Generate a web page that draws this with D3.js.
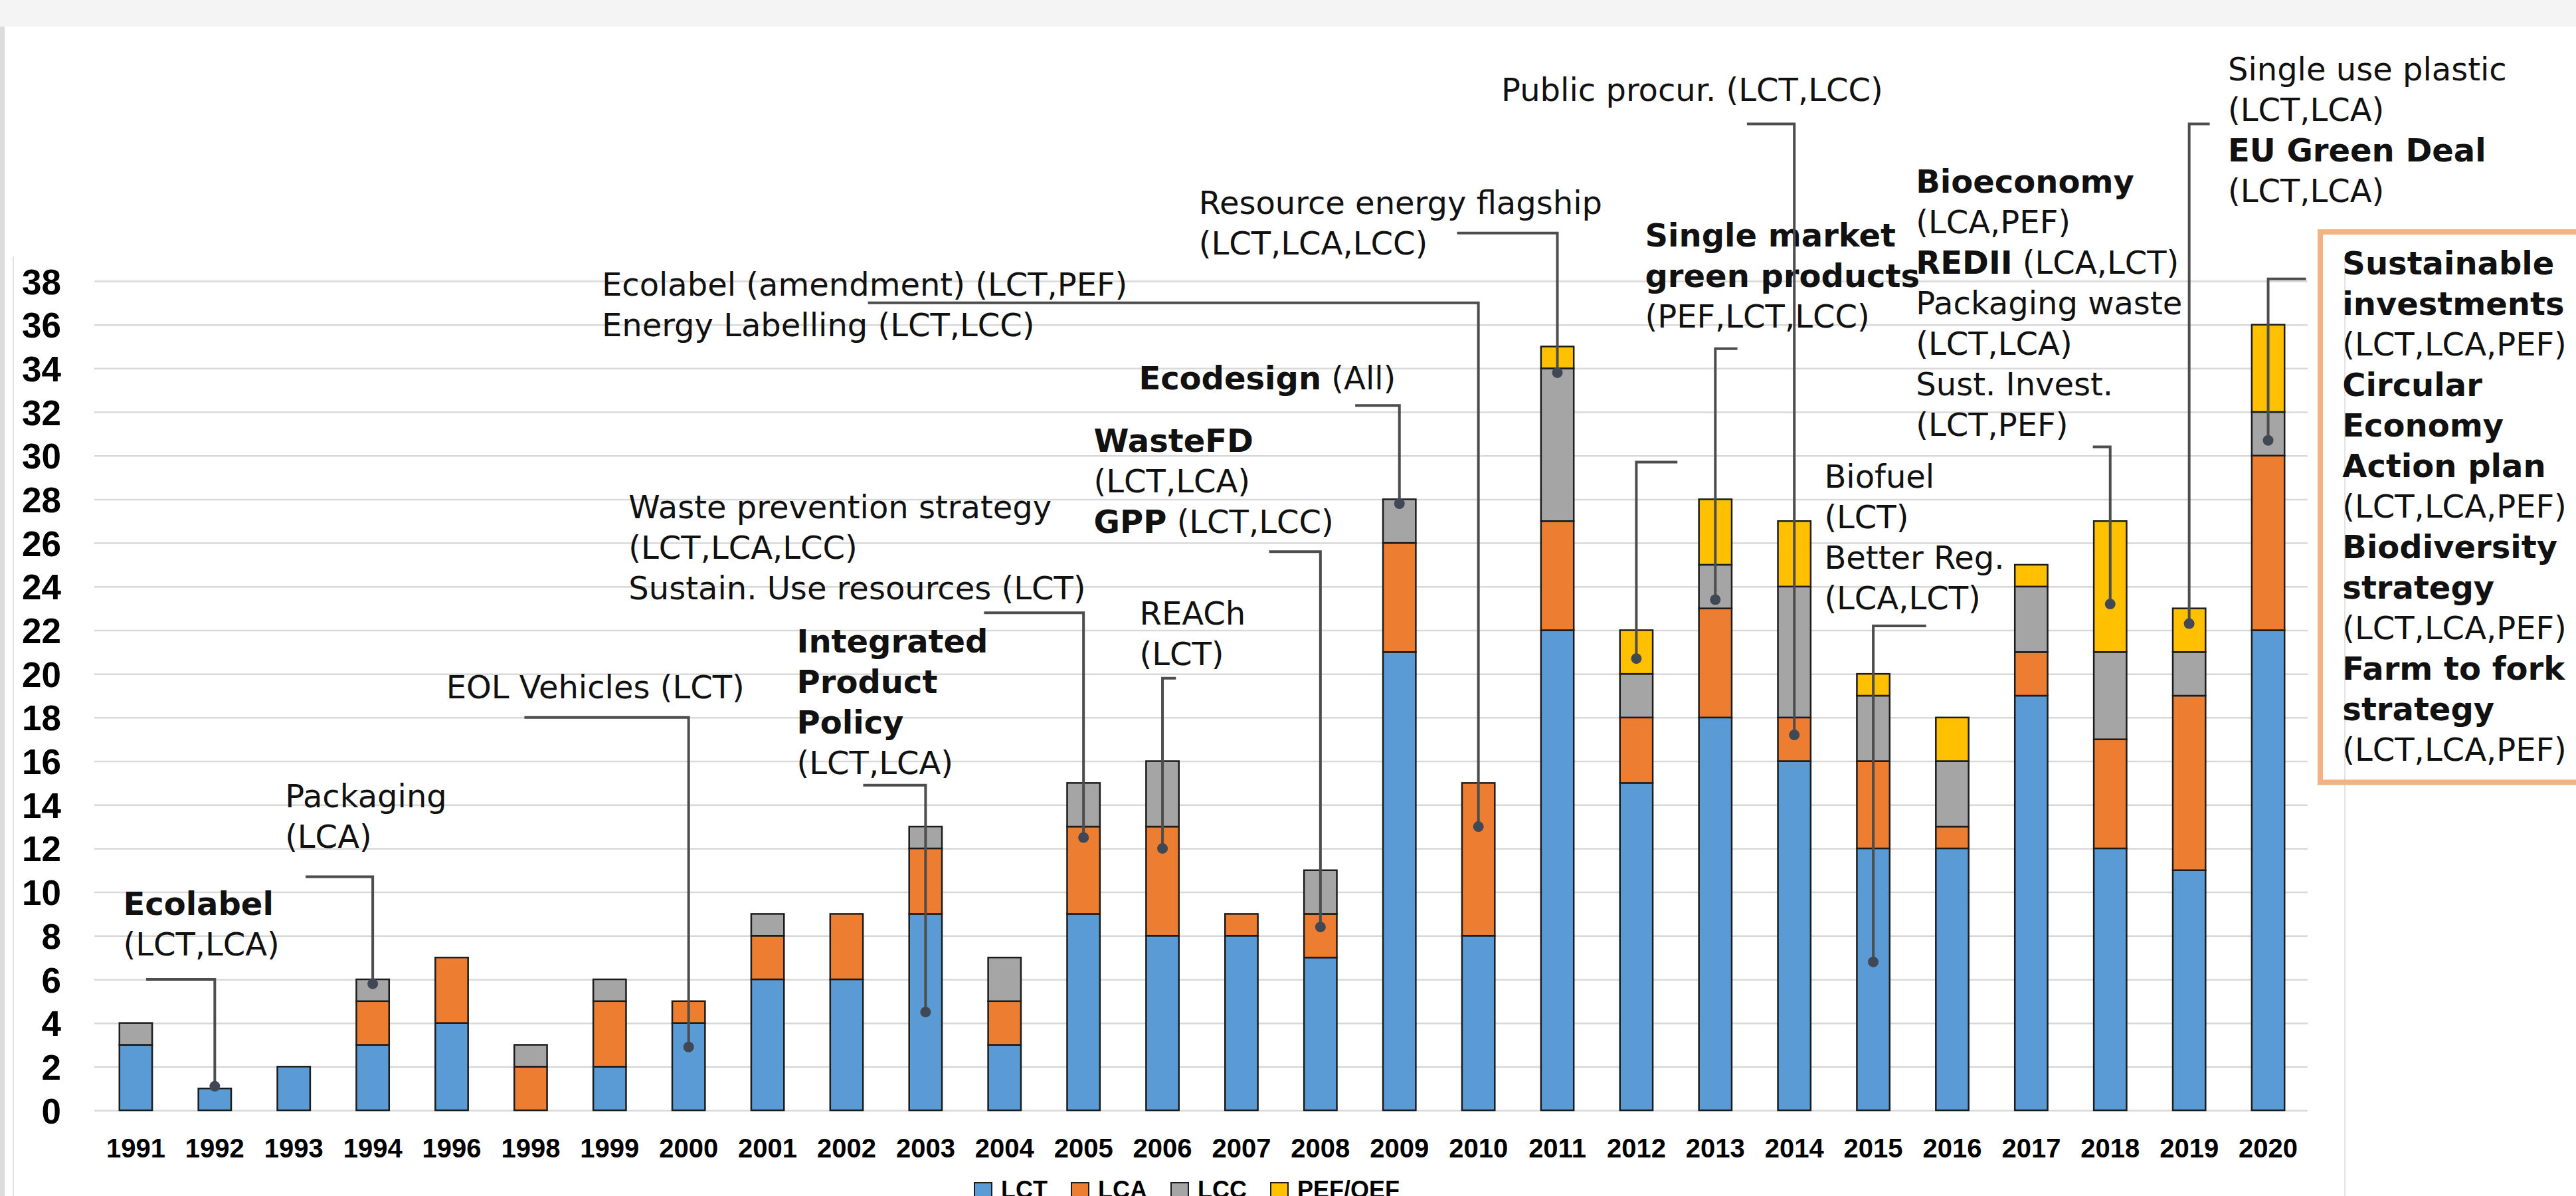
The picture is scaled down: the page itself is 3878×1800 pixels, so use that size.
<!DOCTYPE html>
<html lang="en">
<head>
<meta charset="UTF-8">
<title>Life cycle methods in EU policies</title>
<script src="https://d3js.org/d3.v7.min.js"></script>
<style>
  body { margin: 0; background: #fff; }
  svg { display: block; }
  .note { font-family: "DejaVu Sans", Verdana, sans-serif; font-size: 48px; fill: #111; white-space: pre; }
  .axis text { font-family: "Liberation Sans", Arial, sans-serif; font-weight: bold; fill: #000; }
  .legend text { font-family: "Liberation Sans", Arial, sans-serif; font-weight: bold; font-size: 36px; fill: #000; }
</style>
</head>
<body>
<script>
// data
const years = ["1991","1992","1993","1994","1996","1998","1999","2000","2001","2002",
               "2003","2004","2005","2006","2007","2008","2009","2010","2011","2012",
               "2013","2014","2015","2016","2017","2018","2019","2020"];
const lct = [3,1,2,3,4,0,2,4,6,6, 9,3,9,8,8,7,21,8,22,15, 18,16,12,12,19,12,11,22];
const lca = [0,0,0,2,3,2,3,1,2,3, 3,2,4,5,1,2,5,7,5,3, 5,2,4,1,2,5,8,8];
const lcc = [1,0,0,1,0,1,1,0,1,0, 1,2,2,3,0,2,2,0,7,2, 2,6,3,3,3,4,2,2];
const pef = [0,0,0,0,0,0,0,0,0,0, 0,0,0,0,0,0,0,0,1,2, 3,3,1,2,1,6,2,4];
const seriesNames = ["LCT", "LCA", "LCC", "PEF/OEF"];
const yTicks = d3.range(0, 40, 2);

// annotations: leader from `from` (category index units) at `elbow` value, down to `dot` on a bar
const leaders = [
  {year: "1992", dot: 1.1,  elbow: 6.0,  from: 0.63},
  {year: "1994", dot: 5.8,  elbow: 10.7, from: 2.65},
  {year: "2000", dot: 2.9,  elbow: 18.0, from: 5.42},
  {year: "2010", dot: 13.0, elbow: 37.0, from: 9.77},
  {year: "2005", dot: 12.5, elbow: 22.8, from: 11.24},
  {year: "2003", dot: 4.5,  elbow: 14.9, from: 9.71},
  {year: "2006", dot: 12.0, elbow: 19.8, from: 13.67},
  {year: "2008", dot: 8.4,  elbow: 25.6, from: 14.85},
  {year: "2009", dot: 27.8, elbow: 32.3, from: 15.94},
  {year: "2011", dot: 33.8, elbow: 40.2, from: 17.23},
  {year: "2014", dot: 17.2, elbow: 45.2, from: 20.90},
  {year: "2013", dot: 23.4, elbow: 34.9, from: 20.78},
  {year: "2012", dot: 20.7, elbow: 29.7, from: 20.02},
  {year: "2015", dot: 6.8,  elbow: 22.2, from: 23.17},
  {year: "2018", dot: 23.2, elbow: 30.4, from: 25.28},
  {year: "2019", dot: 22.3, elbow: 45.2, from: 26.76},
  {year: "2020", dot: 30.7, elbow: 38.1, from: 27.98}
];

// **text** = bold
const labels = [
  {at: [0.34, 8.95],  lines: ["**Ecolabel**", "(LCT,LCA)"]},
  {at: [2.39, 13.88], lines: ["Packaging", "(LCA)"]},
  {at: [4.43, 18.88], lines: ["EOL Vehicles (LCT)"]},
  {at: [6.40, 37.33], lines: ["Ecolabel (amendment) (LCT,PEF)", "Energy Labelling (LCT,LCC)"]},
  {at: [6.74, 27.13], lines: ["Waste prevention strategy", "(LCT,LCA,LCC)", "Sustain. Use resources (LCT)"]},
  {at: [8.87, 20.98], lines: ["**Integrated**", "**Product**", "**Policy**", "(LCT,LCA)"]},
  {at: [13.21, 22.26], lines: ["REACh", "(LCT)"]},
  {at: [12.63, 30.17], lines: ["**WasteFD**", "(LCT,LCA)", "**GPP** (LCT,LCC)"]},
  {at: [13.20, 33.04], lines: ["**Ecodesign** (All)"]},
  {at: [13.96, 41.08], lines: ["Resource energy flagship", "(LCT,LCA,LCC)"]},
  {at: [17.79, 46.25], lines: ["Public procur. (LCT,LCC)"]},
  {at: [19.61, 39.58], lines: ["**Single market**", "**green products**", "(PEF,LCT,LCC)"]},
  {at: [21.88, 28.53], lines: ["Biofuel", "(LCT)", "Better Reg.", "(LCA,LCT)"]},
  {at: [23.04, 42.05], lines: ["**Bioeconomy**", "(LCA,PEF)", "**REDII** (LCA,LCT)", "Packaging waste",
                              "(LCT,LCA)", "Sust. Invest.", "(LCT,PEF)"]},
  {at: [26.99, 47.20], lines: ["Single use plastic", "(LCT,LCA)", "**EU Green Deal**", "(LCT,LCA)"]},
  {at: [28.44, 38.30], lines: ["**Sustainable**", "**investments**", "(LCT,LCA,PEF)", "**Circular**",
                              "**Economy**", "**Action plan**", "(LCT,LCA,PEF)", "**Biodiversity**",
                              "**strategy**", "(LCT,LCA,PEF)", "**Farm to fork**", "**strategy**",
                              "(LCT,LCA,PEF)"]}
];
const box = {from: 28.16, top: 40.25, bottom: 15.03};

// layout / style
const W = 3878, H = 1800;
const x0 = 145, x1 = 3474, yBase = 1671, yTop = 423, gridLeft = 142;
const colors = ["#5b9bd5", "#ed7d31", "#a5a5a5", "#ffc000"];

const svg = d3.select("body").append("svg").attr("width", W).attr("height", H);

// page frame
svg.append("rect").attr("width", W).attr("height", 40).attr("fill", "#f4f4f4");
svg.append("rect").attr("y", 40).attr("width", 7).attr("height", H - 40).attr("fill", "#dcdcdc");
svg.selectAll("line.frame").data([20, 3530]).join("line").attr("class", "frame")
   .attr("x1", d => d).attr("x2", d => d).attr("y1", 386).attr("y2", H)
   .attr("stroke", "#e2e2e2").attr("stroke-width", 2);

const x = d3.scaleBand().domain(years).range([x0, x1]).paddingInner(0.585).paddingOuter(0.2925);
const xi = d3.scaleLinear().domain([0, years.length]).range([x0, x1]);
const y = d3.scaleLinear().domain([0, 38]).range([yBase, yTop]);
const cx = yr => x(yr) + x.bandwidth() / 2;

// y axis + gridlines
const yAxis = svg.append("g").attr("class", "axis")
   .attr("transform", `translate(${gridLeft},0)`)
   .call(d3.axisLeft(y).tickValues(yTicks).tickSize(-(x1 - gridLeft)).tickPadding(50));
yAxis.select(".domain").remove();
yAxis.selectAll("line").attr("stroke", "#d9d9d9").attr("stroke-width", 2.5);
yAxis.selectAll("text").attr("font-size", 53).attr("dy", "0.36em");

// x axis
const xAxis = svg.append("g").attr("class", "axis")
   .attr("transform", `translate(0,${yBase})`)
   .call(d3.axisBottom(x).tickSize(0));
xAxis.select(".domain").remove();
xAxis.selectAll("text").attr("font-size", 40).attr("y", 71).attr("dy", 0);

// stacked bars
const table = years.map((yr, i) => ({year: yr, LCT: lct[i], LCA: lca[i], LCC: lcc[i], "PEF/OEF": pef[i]}));
const stacked = d3.stack().keys(seriesNames)(table);

svg.append("g").selectAll("g").data(stacked).join("g")
   .attr("fill", (d, i) => colors[i])
   .selectAll("rect").data(d => d.filter(s => s[1] > s[0])).join("rect")
   .attr("x", d => x(d.data.year))
   .attr("y", d => y(d[1]))
   .attr("width", x.bandwidth())
   .attr("height", d => y(d[0]) - y(d[1]))
   .attr("stroke", "#1c1c1c").attr("stroke-width", 2.5);

// annotation text
const notes = svg.append("g").attr("class", "note");
labels.forEach(l => {
  const lx = xi(l.at[0]);
  const t = notes.append("text").attr("x", lx).attr("y", y(l.at[1]));
  l.lines.forEach((line, k) => {
    let first = true;
    line.split("**").forEach((part, j) => {
      if (!part) return;
      const ts = t.append("tspan").text(part).attr("font-weight", j % 2 ? "bold" : "normal");
      if (first) { ts.attr("x", lx).attr("dy", k ? "1.27em" : 0); first = false; }
    });
  });
});

// box round the 2020 note
svg.append("rect")
   .attr("x", xi(box.from)).attr("y", y(box.top))
   .attr("width", W + 20 - xi(box.from)).attr("height", y(box.bottom) - y(box.top))
   .attr("fill", "none").attr("stroke", "#f4b183").attr("stroke-width", 8);

// leader lines and dots
const lead = svg.append("g");
lead.selectAll("path").data(leaders).join("path")
   .attr("d", d => `M${xi(d.from)},${y(d.elbow)}H${cx(d.year)}V${y(d.dot)}`)
   .attr("fill", "none").attr("stroke", "#4d4d4d").attr("stroke-width", 4);
lead.selectAll("circle").data(leaders).join("circle")
   .attr("cx", d => cx(d.year)).attr("cy", d => y(d.dot)).attr("r", 8)
   .attr("fill", "#404855");

// legend
const legend = svg.append("g").attr("class", "legend").attr("transform", "translate(1467,1780)");
let lx = 0;
seriesNames.forEach((n, i) => {
  legend.append("rect").attr("x", lx).attr("width", 26).attr("height", 26)
        .attr("fill", colors[i]).attr("stroke", "#1c1c1c").attr("stroke-width", 2);
  const t = legend.append("text").attr("x", lx + 40).attr("y", 23).text(n);
  lx += 40 + t.node().getComputedTextLength() + 36;
});
</script>
</body>
</html>
